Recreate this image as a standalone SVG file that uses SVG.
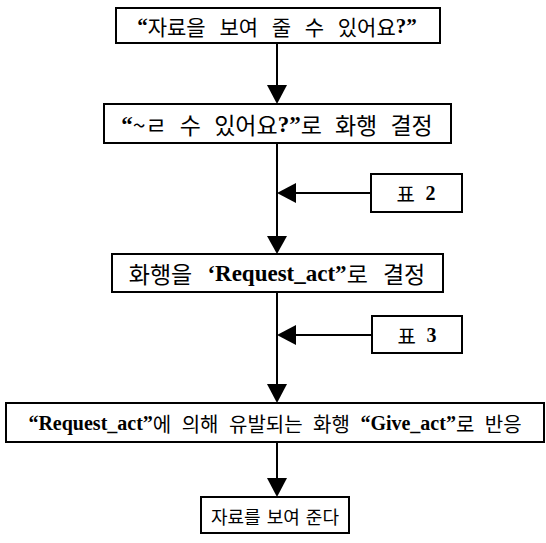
<svg xmlns="http://www.w3.org/2000/svg" width="546" height="543" viewBox="0 0 546 543">
<style>
.box{fill:#fff;stroke:#000;stroke-width:2}
.ln{stroke:#000;stroke-width:2;fill:none}
.ah{fill:#000}
text{font-family:"Noto Sans CJK KR","Noto Sans",sans-serif;font-size:20px;fill:#000;text-anchor:middle;dominant-baseline:central;word-spacing:4px}
.l{font-family:"Liberation Serif","Times New Roman",serif;font-weight:bold}
</style>
<rect width="546" height="543" fill="#fff"/>
<g id="connectors">
<line class="ln" x1="277" y1="43" x2="277" y2="90"/>
<polygon class="ah" points="267,85 287,85 277,104"/>
<line class="ln" x1="277" y1="143" x2="277" y2="242"/>
<polygon class="ah" points="267,236 287,236 277,254"/>
<line class="ln" x1="295" y1="193" x2="371" y2="193"/>
<polygon class="ah" points="296,183 296,203 277,193"/>
<line class="ln" x1="277" y1="292" x2="277" y2="390"/>
<polygon class="ah" points="267,384 287,384 277,403"/>
<line class="ln" x1="295" y1="335" x2="372" y2="335"/>
<polygon class="ah" points="296,325 296,345 277,335"/>
<line class="ln" x1="277" y1="442" x2="277" y2="485"/>
<polygon class="ah" points="267,478 287,478 277,497"/>
</g>
<g id="n1"><rect class="box" x="116" y="8" width="324" height="35"/>
<text x="277" y="26" style="font-size:21px;word-spacing:9px"><tspan class="l">“</tspan>자료을 보여 줄 수 있어요<tspan class="l">?”</tspan></text></g>
<g id="n2"><rect class="box" x="104" y="104" width="347" height="39"/>
<text x="277" y="124" style="font-size:23px;word-spacing:8px"><tspan class="l">“</tspan>~ㄹ 수 있어요<tspan class="l">?”</tspan>로 화행 결정</text></g>
<g id="t2"><rect class="box" x="371" y="174" width="91" height="38"/>
<text x="416" y="193" style="word-spacing:6px">표 <tspan class="l">2</tspan></text></g>
<g id="n3"><rect class="box" x="112" y="254" width="331" height="38"/>
<text x="277" y="273" style="font-size:23px;word-spacing:10px">화행을 <tspan class="l">‘Request_act”</tspan>로 결정</text></g>
<g id="t3"><rect class="box" x="372" y="316" width="90" height="37"/>
<text x="417" y="335" style="word-spacing:6px">표 <tspan class="l">3</tspan></text></g>
<g id="n4"><rect class="box" x="6" y="403" width="538" height="39"/>
<text x="275" y="423" style="word-spacing:6px"><tspan class="l">“Request_act”</tspan>에 의해 유발되는 화행 <tspan class="l">“Give_act”</tspan>로 반응</text></g>
<g id="n5"><rect class="box" x="201" y="497" width="148" height="36"/>
<text x="275" y="516" style="font-size:18px;word-spacing:2px">자료를 보여 준다</text></g>
</svg>
